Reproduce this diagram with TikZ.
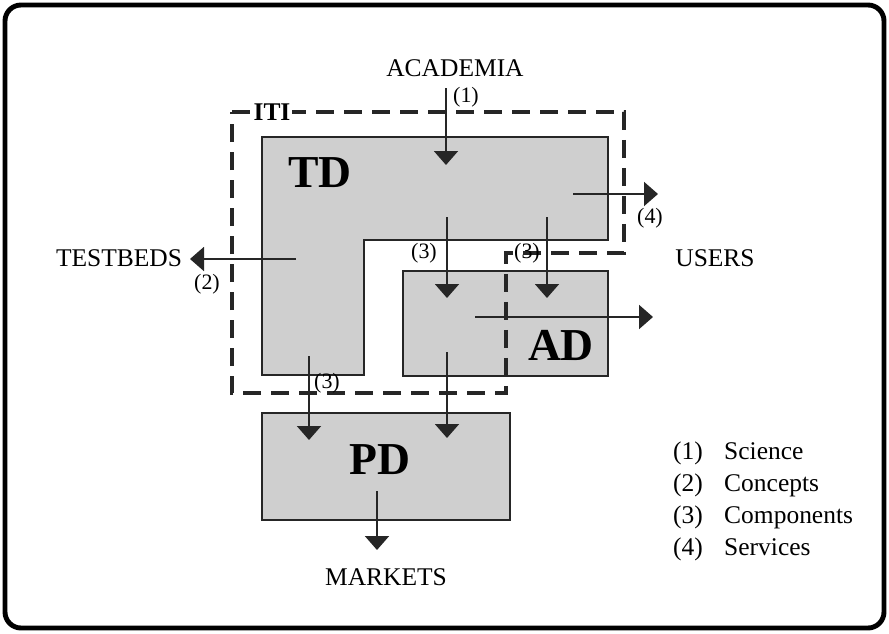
\documentclass[tikz,border=0pt]{standalone}
\usepackage{fontspec}
\setmainfont{Liberation Serif}
\usepackage{xcolor}
\usetikzlibrary{arrows.meta}
\definecolor{ITIGray}{HTML}{CFCFCF}
\definecolor{ITIInk}{HTML}{262626}

\begin{document}
\begin{tikzpicture}[x=1cm,y=1cm,
  flow/.style={ITIInk,line width=1.1pt,-{Triangle[width=0.48cm,length=0.28cm]}},
  unit/.style={fill=ITIGray,draw=ITIInk,line width=1.1pt},
  border/.style={ITIInk,line width=2.3pt,dash pattern=on 0.36cm off 0.2cm},
  tag/.style={font=\fontsize{12.5}{14}\selectfont,inner sep=1pt},
  place/.style={font=\fontsize{14.5}{17}\selectfont},
  big/.style={font=\fontsize{26}{30}\selectfont\bfseries}]
\path[use as bounding box] (0,0) rectangle (17.78,12.66);
\draw[line width=2.8pt,rounded corners=0.32cm] (0.10,0.10) rectangle (17.68,12.56);
% units
\draw[unit] (5.24,9.92) -- (12.16,9.92) -- (12.16,7.86) -- (7.28,7.86) -- (7.28,5.16) -- (5.24,5.16) -- cycle;
\draw[unit] (8.06,5.14) rectangle (12.16,7.24);
\draw[unit] (5.24,2.26) rectangle (10.20,4.40);
\node[big] (td) at (6.40,9.20) {TD};
\node[big] (ad) at (11.22,5.76) {AD};
\node[big] (pd) at (7.60,3.46) {PD};
% ITI boundary
\draw[border] (4.64,10.42) -- (12.48,10.42) -- (12.48,7.60) -- (10.12,7.60) -- (10.12,4.80) -- (4.64,4.80) -- cycle;
\node[fill=white,inner sep=1pt,font=\fontsize{14.5}{17}\selectfont\bfseries] (iti) at (5.44,10.42) {ITI};
% outside parties
\node[place] (academia) at (9.10,11.30) {ACADEMIA};
\node[place] (testbeds) at (2.38,7.50) {TESTBEDS};
\node[place] (users) at (14.30,7.50) {USERS};
\node[place] (markets) at (7.72,1.12) {MARKETS};
% flows
\coordinate (acad-out) at (8.92,10.90);
\coordinate (td-in) at (8.92,9.36);
\draw[flow] (acad-out) -- (td-in);
\node[tag] (n1) at (9.32,10.72) {(1)};
\coordinate (td-east) at (11.46,8.78);
\coordinate (users-in) at (13.16,8.78);
\draw[flow] (td-east) -- (users-in);
\node[tag] (n4) at (13.00,8.30) {(4)};
\coordinate (td-west) at (5.92,7.48);
\coordinate (testbeds-in) at (3.80,7.48);
\draw[flow] (td-west) -- (testbeds-in);
\node[tag] (n2) at (4.14,6.98) {(2)};
\coordinate (td-mid) at (8.94,8.32);
\coordinate (ad-left) at (8.94,6.70);
\draw[flow] (td-mid) -- (ad-left);
\node[tag] (n3a) at (8.48,7.60) {(3)};
\coordinate (td-right) at (10.94,8.32);
\coordinate (ad-right) at (10.94,6.70);
\draw[flow] (td-right) -- (ad-right);
\node[tag] (n3b) at (10.54,7.60) {(3)};
\coordinate (ad-east) at (9.50,6.32);
\coordinate (users-low) at (13.06,6.32);
\draw[flow] (ad-east) -- (users-low);
\coordinate (td-foot) at (6.18,5.54);
\coordinate (pd-left) at (6.18,3.86);
\draw[flow] (td-foot) -- (pd-left);
\node[tag] (n3c) at (6.54,5.00) {(3)};
\coordinate (ad-foot) at (8.94,5.62);
\coordinate (pd-right) at (8.94,3.90);
\draw[flow] (ad-foot) -- (pd-right);
\coordinate (pd-foot) at (7.54,2.84);
\coordinate (markets-in) at (7.54,1.66);
\draw[flow] (pd-foot) -- (markets-in);
% legend
\node[place,anchor=base west] (k1) at (13.34,3.48) {(1)};
\node[place,anchor=base west] (v1) at (14.36,3.48) {Science};
\node[place,anchor=base west] (k2) at (13.34,2.84) {(2)};
\node[place,anchor=base west] (v2) at (14.36,2.84) {Concepts};
\node[place,anchor=base west] (k3) at (13.34,2.20) {(3)};
\node[place,anchor=base west] (v3) at (14.36,2.20) {Components};
\node[place,anchor=base west] (k4) at (13.34,1.56) {(4)};
\node[place,anchor=base west] (v4) at (14.36,1.56) {Services};
\end{tikzpicture}
\end{document}
